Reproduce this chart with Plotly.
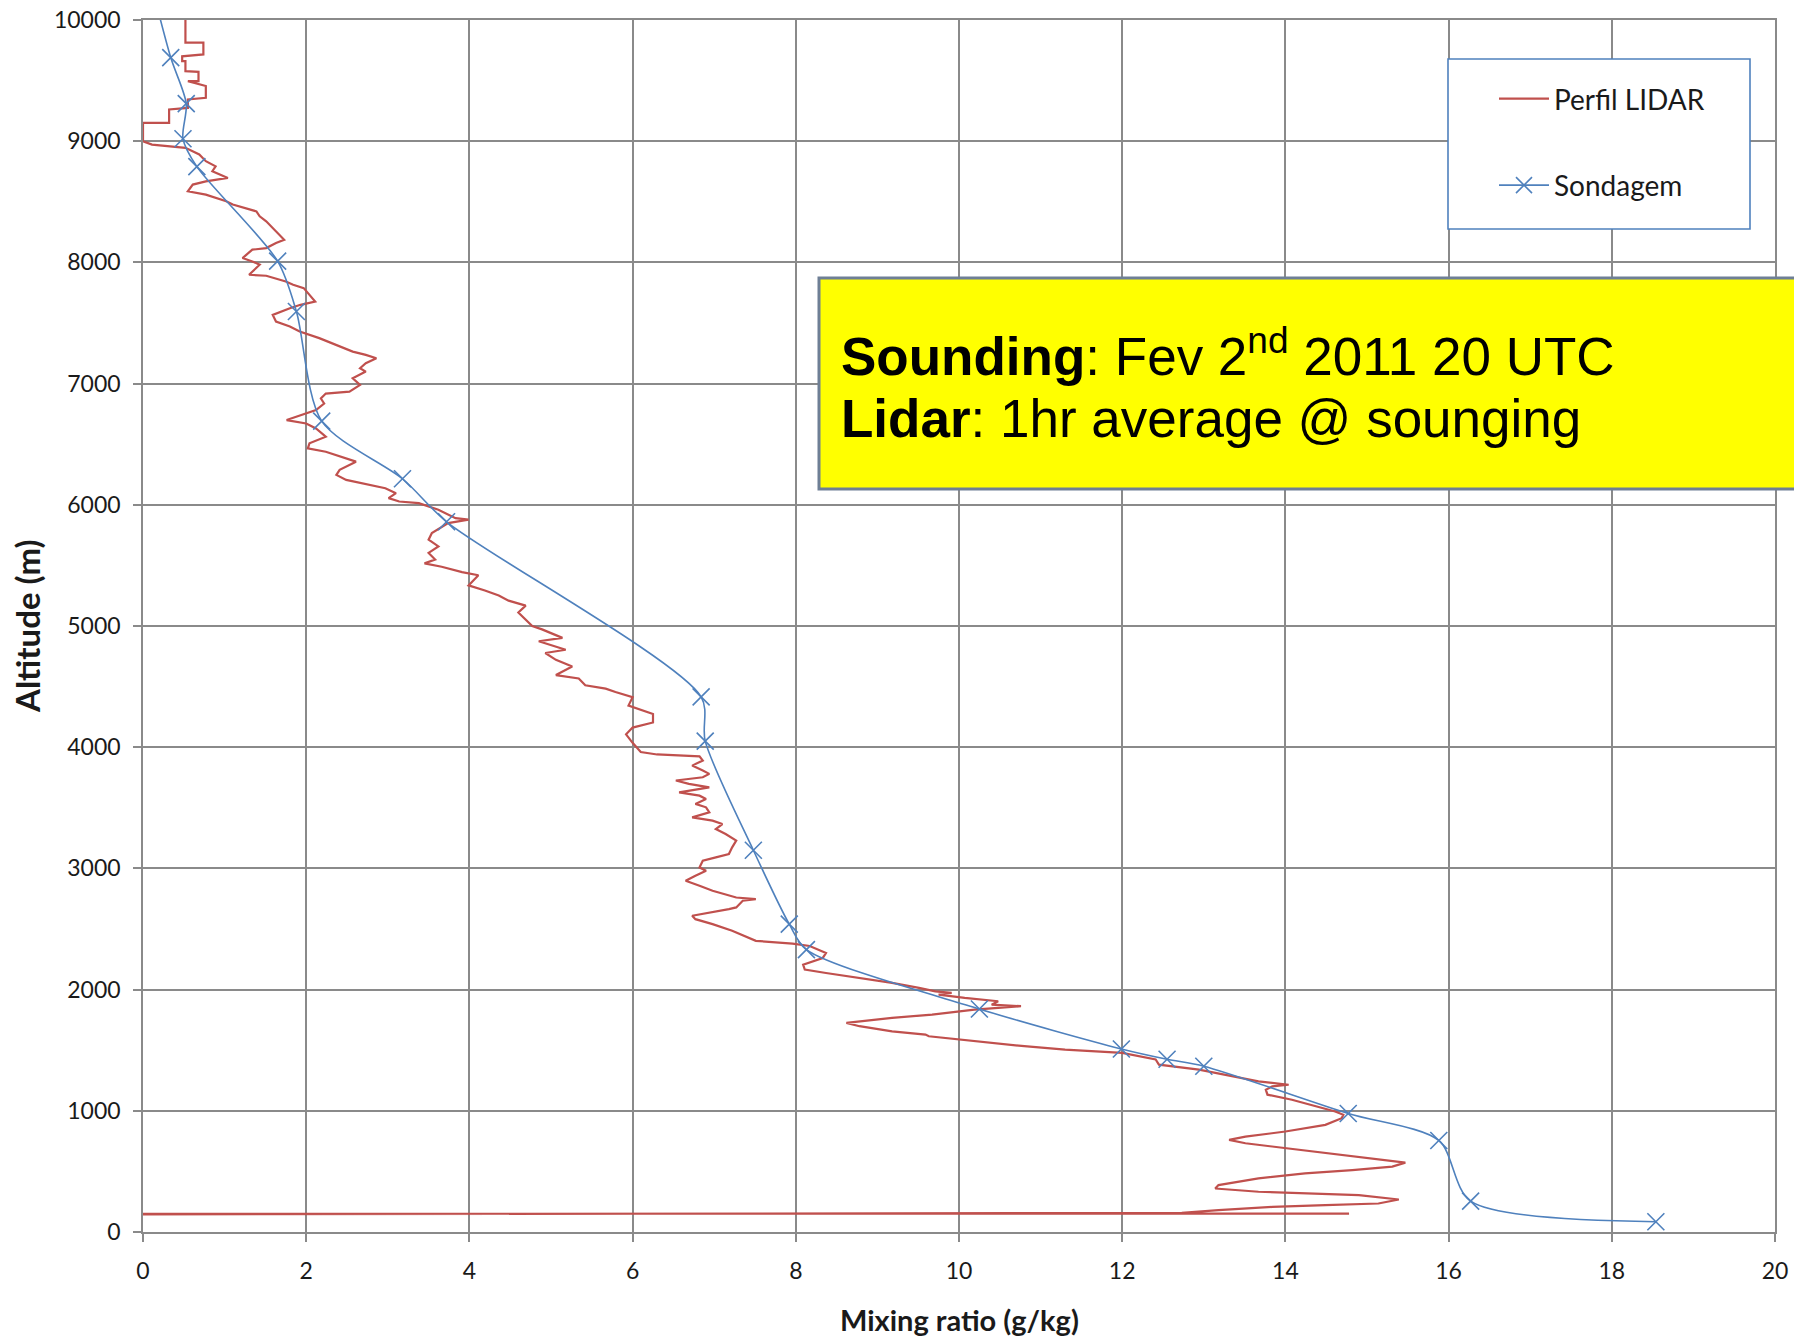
import plotly.graph_objects as go

# LIDAR water-vapour mixing ratio profile (g/kg) against altitude (m), top to bottom
lidar_q = [
    0.52, 0.52, 0.74, 0.74, 0.48, 0.48, 0.52, 0.52, 0.68, 0.68, 0.55, 0.77, 0.77, 0.55, 0.55, 0.32,
    0.32, 0.0, 0.0, 0.11, 0.52, 0.69, 0.77, 0.89, 0.85, 1.04, 0.77, 0.61, 0.55, 0.77, 1.02, 1.10,
    1.39, 1.43, 1.51, 1.63, 1.73, 1.63, 1.51, 1.34, 1.22, 1.34, 1.43, 1.30, 1.51, 1.75, 1.84, 1.97,
    2.11, 1.93, 1.80, 1.59, 1.63, 1.80, 1.92, 2.16, 2.37, 2.57, 2.73, 2.86, 2.73, 2.66, 2.73, 2.57,
    2.66, 2.53, 2.24, 2.18, 2.22, 2.12, 1.76, 2.00, 2.12, 2.24, 2.04, 2.02, 2.24, 2.53, 2.61, 2.41,
    2.37, 2.49, 2.77, 2.97, 3.10, 3.01, 3.14, 3.38, 3.62, 3.83, 3.99, 3.74, 3.54, 3.50, 3.62, 3.50,
    3.58, 3.45, 3.66, 3.91, 4.11, 3.99, 4.19, 4.36, 4.48, 4.69, 4.60, 4.69, 4.77, 4.89, 5.14, 4.85,
    5.18, 4.93, 5.06, 5.26, 5.06, 5.34, 5.42, 5.67, 5.79, 6.00, 5.95, 6.25, 6.25, 6.00, 5.92, 6.00,
    6.10, 6.30, 6.82, 6.86, 6.73, 6.86, 6.94, 6.86, 6.53, 6.69, 6.94, 6.57, 6.82, 6.90, 6.77, 6.90,
    6.94, 6.73, 6.98, 7.10, 7.02, 7.14, 7.27, 7.22, 7.18, 7.02, 6.86, 6.82, 6.90, 6.77, 6.65, 6.82,
    6.98, 7.27, 7.51, 7.35, 7.27, 7.18, 6.73, 6.77, 6.98, 7.22, 7.51, 7.96, 8.17, 8.37, 8.33, 8.09,
    8.11, 8.37, 8.78, 9.18, 9.51, 9.71, 9.91, 9.75, 10.07, 10.32, 10.48, 10.40, 10.76, 10.48, 10.19, 9.67,
    9.18, 8.62, 8.78, 9.18, 9.59, 9.63, 10.00, 10.40, 10.80, 11.30, 12.00, 12.41, 12.45, 12.94, 13.35, 13.67,
    14.04, 13.84, 13.76, 13.78, 14.08, 14.37, 14.61, 14.71, 14.69, 14.49, 14.00, 13.51, 13.31, 13.51, 14.00, 14.49,
    14.98, 15.47, 15.31, 14.82, 14.24, 13.67, 13.18, 13.14, 13.67, 14.29, 14.90, 15.39, 15.14, 14.49, 13.84, 13.18,
    12.73, 0.0, 0.0, 14.78,
]
lidar_alt = [
    10100, 9813, 9813, 9716, 9700, 9661, 9661, 9578, 9572, 9496, 9496, 9455, 9358, 9344, 9275, 9262,
    9151, 9151, 9000, 8972, 8945, 8890, 8835, 8793, 8752, 8697, 8669, 8642, 8587, 8559, 8504, 8477,
    8421, 8380, 8339, 8256, 8187, 8160, 8118, 8105, 8036, 8008, 7981, 7898, 7890, 7843, 7815, 7788,
    7677, 7650, 7622, 7567, 7512, 7471, 7430, 7375, 7319, 7264, 7237, 7209, 7168, 7127, 7099, 7044,
    6989, 6934, 6918, 6877, 6836, 6781, 6699, 6671, 6630, 6562, 6507, 6466, 6438, 6370, 6356, 6288,
    6247, 6205, 6164, 6137, 6096, 6055, 6027, 6014, 5959, 5890, 5877, 5849, 5767, 5712, 5657, 5603,
    5548, 5517, 5489, 5445, 5419, 5335, 5293, 5251, 5209, 5168, 5112, 5056, 5000, 4972, 4902, 4874,
    4804, 4777, 4721, 4665, 4595, 4567, 4511, 4483, 4455, 4413, 4344, 4274, 4204, 4162, 4106, 4036,
    3960, 3940, 3925, 3890, 3848, 3807, 3780, 3752, 3725, 3697, 3669, 3628, 3600, 3573, 3532, 3504,
    3463, 3421, 3394, 3366, 3325, 3284, 3229, 3174, 3118, 3091, 3063, 3008, 2981, 2939, 2898, 2857,
    2815, 2760, 2746, 2733, 2678, 2664, 2609, 2581, 2540, 2485, 2402, 2380, 2360, 2302, 2261, 2206,
    2165, 2137, 2096, 2055, 2014, 1986, 1973, 1959, 1931, 1918, 1904, 1876, 1863, 1849, 1835, 1794,
    1766, 1725, 1698, 1656, 1629, 1615, 1588, 1560, 1533, 1505, 1478, 1423, 1381, 1340, 1284, 1243,
    1215, 1202, 1174, 1133, 1091, 1036, 994, 967, 939, 884, 829, 787, 760, 732, 691, 649,
    608, 572, 539, 511, 484, 442, 387, 359, 332, 318, 304, 268, 235, 221, 207, 180,
    158, 145, 150, 152,
]

# Radiosonde mixing ratio (g/kg) and altitude (m)
sonde_q = [0.10, 0.34, 0.53, 0.49, 0.66, 1.65, 1.88, 2.19, 3.18, 3.72, 6.84, 6.89, 7.48, 7.92,
           8.13, 10.25, 11.99, 12.55, 13.00, 14.77, 15.88, 16.27, 18.54]
sonde_alt = [10300, 9690, 9310, 9020, 8790, 8010, 7595, 6690, 6215, 5860, 4415, 4050, 3150, 2540,
             2330, 1840, 1510, 1425, 1368, 978, 755, 255, 85]

x_ticks = [0, 2, 4, 6, 8, 10, 12, 14, 16, 18, 20]
y_ticks = [0, 1000, 2000, 3000, 4000, 5000, 6000, 7000, 8000, 9000, 10000]

RED = "#C0504D"
BLUE = "#4F81BD"
GRID = "#8A8A8A"

fig = go.Figure()
fig.add_trace(go.Scatter(
    x=lidar_q, y=lidar_alt, mode="lines", name="Perfil LIDAR", legendgroup="a",
    line=dict(color=RED, width=2.2),
))
fig.add_trace(go.Scatter(
    x=sonde_q, y=sonde_alt, mode="lines+markers", name="Sondagem", legendgroup="b",
    line=dict(color=BLUE, width=1.6, shape="spline", smoothing=0.8),
    marker=dict(symbol="x-thin", size=17, line=dict(color=BLUE, width=1.6)),
))

axis_common = dict(
    showgrid=True, gridcolor=GRID, gridwidth=1.5,
    showline=True, linecolor=GRID, linewidth=1.5, mirror=True,
    zeroline=False, ticks="outside", ticklen=8, tickcolor=GRID, tickwidth=1.5,
    automargin=False,
    tickfont=dict(family="Lato", size=23, color="#1a1a1a"),
)
fig.update_xaxes(range=[0, 20], tickvals=x_ticks, ticktext=[str(v) for v in x_ticks],
                 ticklabelstandoff=10, **axis_common)
fig.update_yaxes(range=[0, 10000], tickvals=y_ticks, ticktext=[str(v) for v in y_ticks],
                 ticklabelstandoff=8, **axis_common)

W, H = 1794, 1339
ML, MR, MT, MB = 143, 19, 20, 107
PW, PH = W - ML - MR, H - MT - MB


def px_x(p):
    return (p - ML) / PW


def px_y(p):
    return (H - MB - p) / PH


shapes = [
    # legend frame
    dict(type="rect", xref="paper", yref="paper", layer="above",
         x0=px_x(1448), x1=px_x(1750), y0=px_y(229), y1=px_y(59),
         fillcolor="white", line=dict(color=BLUE, width=1.6)),
    # yellow info box
    dict(type="rect", xref="paper", yref="paper", layer="above",
         x0=px_x(819), x1=px_x(1830), y0=px_y(489), y1=px_y(278),
         fillcolor="#FFFF00", line=dict(color="#6E7F95", width=3)),
]

info_font = dict(family="Liberation Sans", size=53, color="black")
annotations = [
    dict(xref="paper", yref="paper", x=px_x(839), y=px_y(352), xanchor="left", yanchor="middle",
         align="left", showarrow=False,
         text="<b>Sounding</b>: Fev 2<sup>nd</sup> 2011 20 UTC", font=info_font),
    dict(xref="paper", yref="paper", x=px_x(839), y=px_y(418), xanchor="left", yanchor="middle",
         align="left", showarrow=False,
         text="<b>Lidar</b>: 1hr average @ sounging", font=info_font),
    dict(xref="paper", yref="paper", x=0.5, y=px_y(1319), xanchor="center", yanchor="middle",
         showarrow=False, text="<b>Mixing ratio (g/kg)</b>",
         font=dict(family="Lato", size=29, color="#1a1a1a")),
    dict(xref="paper", yref="paper", x=px_x(27), y=0.5, xanchor="center", yanchor="middle",
         showarrow=False, textangle=-90, text="<b>Altitude (m)</b>",
         font=dict(family="Lato", size=33, color="#1a1a1a")),
]

fig.update_layout(
    width=W, height=H, margin=dict(l=ML, r=MR, t=MT, b=MB),
    paper_bgcolor="white", plot_bgcolor="white",
    shapes=shapes, annotations=annotations,
    showlegend=True,
    legend=dict(x=px_x(1494), y=px_y(74), xanchor="left", yanchor="top",
                bgcolor="rgba(0,0,0,0)", borderwidth=0, traceorder="grouped",
                tracegroupgap=47, itemwidth=50,
                font=dict(family="Lato", size=28, color="#1a1a1a")),
    hovermode=False,
)

fig.write_html("out.html", config={"displayModeBar": False})
